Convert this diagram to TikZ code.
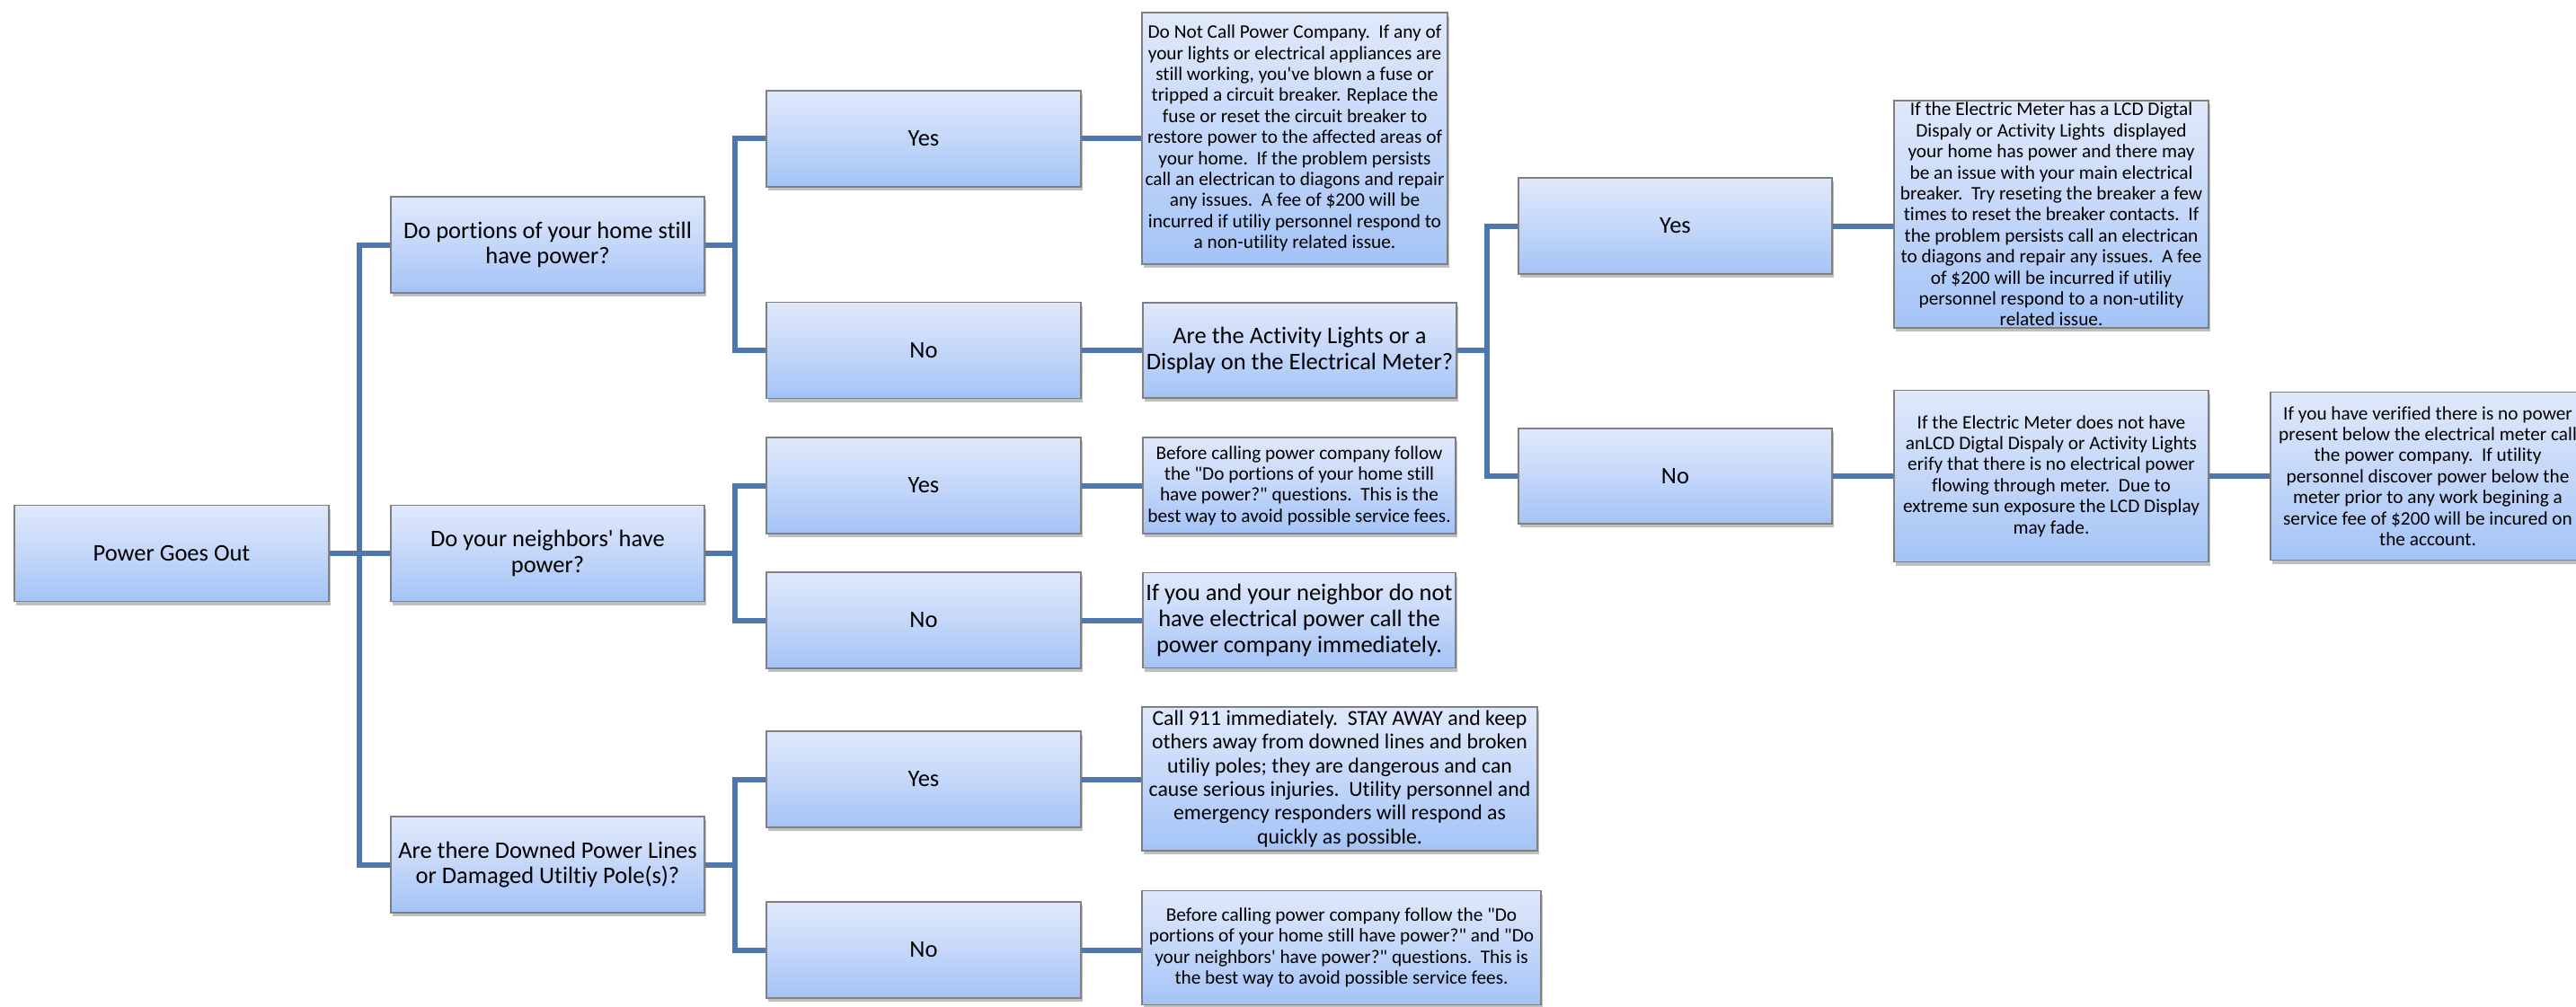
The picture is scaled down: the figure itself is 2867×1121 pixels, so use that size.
\documentclass[tikz,border=0pt]{standalone}
\usepackage{fontspec}
\setmainfont{Carlito}[Ligatures={TeXOff,NoCommon}]
\usetikzlibrary{shadows}
\definecolor{linec}{RGB}{79,118,173}
\definecolor{topc}{RGB}{224,233,251}
\definecolor{midc}{RGB}{196,215,249}
\definecolor{botc}{RGB}{163,195,246}
\definecolor{edgec}{RGB}{128,128,128}
\tikzset{
 box/.style={draw=edgec, line width=1.3pt, top color=topc, bottom color=botc, middle color=midc, align=center, inner sep=1pt, text=black,
   drop shadow={shadow xshift=1.5pt, shadow yshift=-4pt, opacity=0.25, fill=black}},
 big/.style={box, font=\fontsize{26.5}{28.7}\selectfont},
 mid/.style={box, font=\fontsize{23.8}{26.3}\selectfont},
 small/.style={box, font=\fontsize{21.3}{23.4}\selectfont},
 link/.style={draw=linec, line width=6pt, line join=miter},
}
\begin{document}
\begin{tikzpicture}[x=1pt, y=-1pt]
\useasboundingbox (0,0) rectangle (2867,1121);
% level 0
\node[big, minimum width=350pt, minimum height=107pt] (root) at (191,616) {Power Goes Out};
% level 1
\node[big, minimum width=349pt, minimum height=107pt] (q1) at (609.5,272.5) {Do portions of your home still\\have power?};
\node[big, minimum width=349pt, minimum height=107pt] (q2) at (609.5,616) {Do your neighbors' have\\power?};
\node[big, minimum width=349pt, minimum height=107pt] (q3) at (609.5,962.5) {Are there Downed Power Lines\\or Damaged Utiltiy Pole(s)?};
% level 2
\node[big, minimum width=350pt, minimum height=107pt] (y1) at (1028,154.5) {Yes};
\node[big, minimum width=350pt, minimum height=107pt] (n1) at (1028,390) {No};
\node[big, minimum width=350pt, minimum height=107pt] (y2) at (1028,540.5) {Yes};
\node[big, minimum width=350pt, minimum height=107pt] (n2) at (1028,690.5) {No};
\node[big, minimum width=350pt, minimum height=107pt] (y3) at (1028,867.5) {Yes};
\node[big, minimum width=350pt, minimum height=107pt] (n3) at (1028,1057.5) {No};
% level 3
\node[small, minimum width=340pt, minimum height=280pt] (r1) at (1441,154) {Do Not Call Power Company.\ \ If any of\\your lights or electrical appliances are\\still working, you've blown a fuse or\\tripped a circuit breaker. Replace the\\fuse or reset the circuit breaker to\\restore power to the affected areas of\\your home.\ \ If the problem persists\\call an electrican to diagons and repair\\any issues.\ \ A fee of \$200 will be\\incurred if utiliy personnel respond to\\a non-utility related issue.};
\node[big, minimum width=349pt, minimum height=106pt] (act) at (1446.5,390) {Are the Activity Lights or a\\Display on the Electrical Meter?};
\node[small, minimum width=348pt, minimum height=107pt] (r2) at (1446,540.5) {Before calling power company follow\\the "Do portions of your home still\\have power?" questions.\ \ This is the\\best way to avoid possible service fees.};
\node[big, minimum width=348pt, minimum height=106pt] (r3) at (1446,690.5) {If you and your neighbor do not\\have electrical power call the\\power company immediately.};
\node[mid, minimum width=440pt, minimum height=160pt] (r4) at (1491,867) {Call 911 immediately.\ \ STAY AWAY and keep\\others away from downed lines and broken\\utiliy poles; they are dangerous and can\\cause serious injuries.\ \ Utility personnel and\\emergency responders will respond as\\quickly as possible.};
\node[small, minimum width=444pt, minimum height=127pt] (r5) at (1493,1055) {Before calling power company follow the "Do\\portions of your home still have power?" and "Do\\your neighbors' have power?" questions.\ \ This is\\the best way to avoid possible service fees.};
% level 4
\node[big, minimum width=349pt, minimum height=107pt] (y4) at (1864.5,251.5) {Yes};
\node[big, minimum width=349pt, minimum height=106pt] (n4) at (1864.5,530) {No};
% level 5
\node[small, minimum width=350pt, minimum height=253pt] (r6) at (2283,238.5) {If the Electric Meter has a LCD Digtal\\Dispaly or Activity Lights\ \ displayed\\your home has power and there may\\be an issue with your main electrical\\breaker.\ \ Try reseting the breaker a few\\times to reset the breaker contacts.\ \ If\\the problem persists call an electrican\\to diagons and repair any issues.\ \ A fee\\of \$200 will be incurred if utiliy\\personnel respond to a non-utility\\related issue.};
\node[small, minimum width=350pt, minimum height=191pt] (r7) at (2283,530) {If the Electric Meter does not have\\anLCD Digtal Dispaly or Activity Lights\\erify that there is no electrical power\\flowing through meter.\ \ Due to\\extreme sun exposure the LCD Display\\may fade.};
\node[small, minimum width=350pt, minimum height=187pt] (r8) at (2702,530) {If you have verified there is no power\\present below the electrical meter call\\the power company.\ \ If utility\\personnel discover power below the\\meter prior to any work begining a\\service fee of \$200 will be incured on\\the account.};
% trunks
\coordinate (t0) at (400,0);
\coordinate (t1) at (818,0);
\coordinate (t2) at (1655,0);
% connectors
\draw[link] (root.east) -- (root.east -| q2.west);
\draw[link] (q1.west) -- (q1.west -| t0) -- (q3.west -| t0) -- (q3.west);
\draw[link] (q1.east) -- (q1.east -| t1);
\draw[link] (y1.west) -- (y1.west -| t1) -- (n1.west -| t1) -- (n1.west);
\draw[link] (q2.east) -- (q2.east -| t1);
\draw[link] (y2.west) -- (y2.west -| t1) -- (n2.west -| t1) -- (n2.west);
\draw[link] (q3.east) -- (q3.east -| t1);
\draw[link] (y3.west) -- (y3.west -| t1) -- (n3.west -| t1) -- (n3.west);
\draw[link] (y1.east) -- (y1.east -| r1.west);
\draw[link] (n1.east) -- (n1.east -| act.west);
\draw[link] (y2.east) -- (y2.east -| r2.west);
\draw[link] (n2.east) -- (n2.east -| r3.west);
\draw[link] (y3.east) -- (y3.east -| r4.west);
\draw[link] (n3.east) -- (n3.east -| r5.west);
\draw[link] (act.east) -- (act.east -| t2);
\draw[link] (y4.west) -- (y4.west -| t2) -- (n4.west -| t2) -- (n4.west);
\draw[link] (y4.east) -- (y4.east -| r6.west);
\draw[link] (n4.east) -- (n4.east -| r7.west);
\draw[link] (r7.east) -- (r7.east -| r8.west);
\end{tikzpicture}
\end{document}
